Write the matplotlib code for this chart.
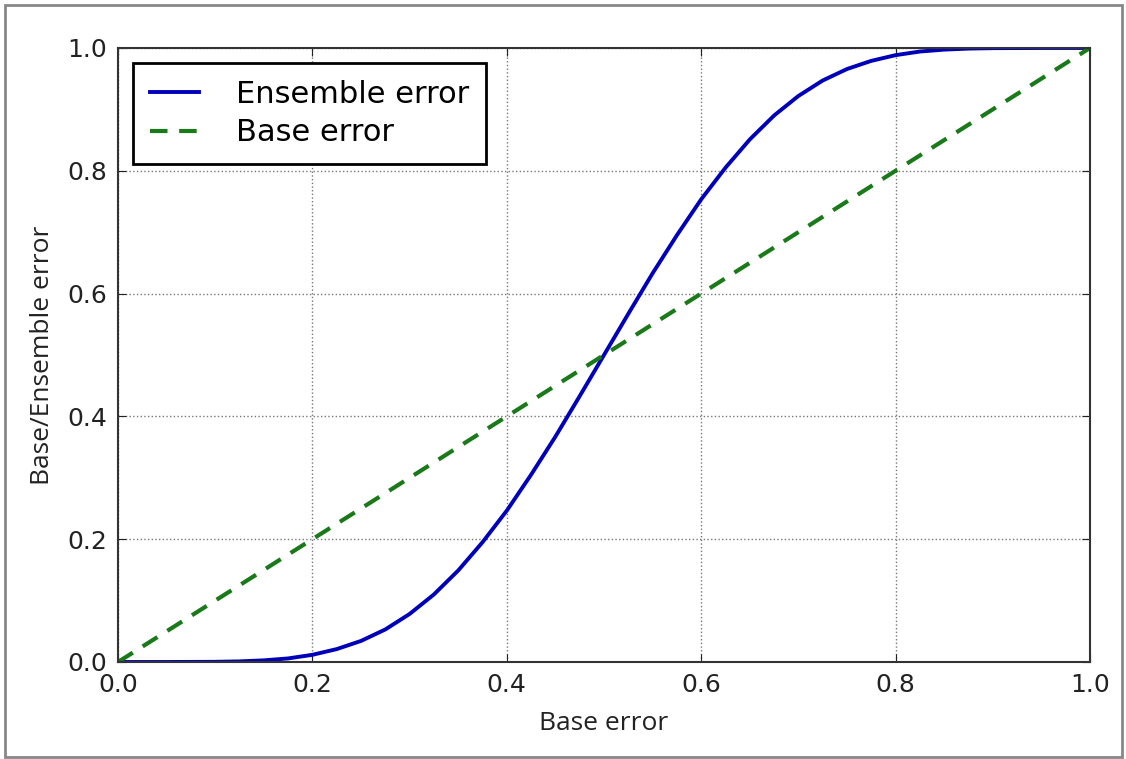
import matplotlib
matplotlib.use("Agg")
import matplotlib.pyplot as plt
from matplotlib.patches import Rectangle

# base error values (x) and ensemble error
base_error = [0.0, 0.05, 0.1, 0.125, 0.15, 0.175, 0.2, 0.225, 0.25, 0.275, 0.3,
              0.325, 0.35, 0.375, 0.4, 0.425, 0.45, 0.475, 0.5, 0.525, 0.55,
              0.575, 0.6, 0.625, 0.65, 0.675, 0.7, 0.725, 0.75, 0.775, 0.8,
              0.825, 0.85, 0.875, 0.9, 0.95, 1.0]
ens_error = [0.0, 0.0, 0.0003, 0.001, 0.0027, 0.0058, 0.0117, 0.021, 0.0343, 0.053, 0.0782,
             0.110, 0.149, 0.195, 0.2465, 0.305, 0.367, 0.433, 0.5, 0.567, 0.633,
             0.695, 0.7535, 0.805, 0.851, 0.890, 0.9218, 0.947, 0.9657, 0.979, 0.9883,
             0.9942, 0.9973, 0.999, 0.9997, 1.0, 1.0]
ticks = [0.0, 0.2, 0.4, 0.6, 0.8, 1.0]
tick_labels = ["0.0", "0.2", "0.4", "0.6", "0.8", "1.0"]

fig = plt.figure(figsize=(11.26, 7.59), dpi=100)
ax = fig.add_axes([0.1048, 0.1278, 0.8632, 0.809])

ax.plot(base_error, ens_error, color="#0000bb", lw=2.8, label="Ensemble error")
ax.plot(base_error, base_error, color="#1a7a1a", ls="--", lw=3.0,
        dashes=(4.2, 2.8), label="Base error")

ax.set_xlim(0, 1)
ax.set_ylim(0, 1.0)
ax.set_xticks(ticks)
ax.set_xticklabels(tick_labels)
ax.set_yticks(ticks)
ax.set_yticklabels(tick_labels)
ax.tick_params(direction="in", length=6, labelsize=18, pad=8, colors="#222222")
ax.tick_params(top=True, right=True)
ax.grid(True, ls=":", color="#777777", lw=1)
for s in ax.spines.values():
    s.set_linewidth(1.5)
    s.set_color("#333333")

ax.set_xlabel("Base error", fontsize=19, family="Open Sans", color="#222222", labelpad=10)
ax.set_ylabel("Base/Ensemble error", fontsize=19, family="Open Sans", color="#222222", labelpad=9)

leg = ax.legend(loc="upper left", fontsize=22, fancybox=False, framealpha=1,
                edgecolor="black", handlelength=1.6, borderpad=0.55,
                labelspacing=0.3, handletextpad=1.2, borderaxespad=0.5)
leg.get_frame().set_linewidth(2)

# outer screenshot frame
fig.patches.append(Rectangle((5 / 1126, 2 / 759), 1117 / 1126, 752 / 759,
                             transform=fig.transFigure, fill=False,
                             edgecolor="#888888", lw=2))

fig.savefig("out.png", dpi=100)
